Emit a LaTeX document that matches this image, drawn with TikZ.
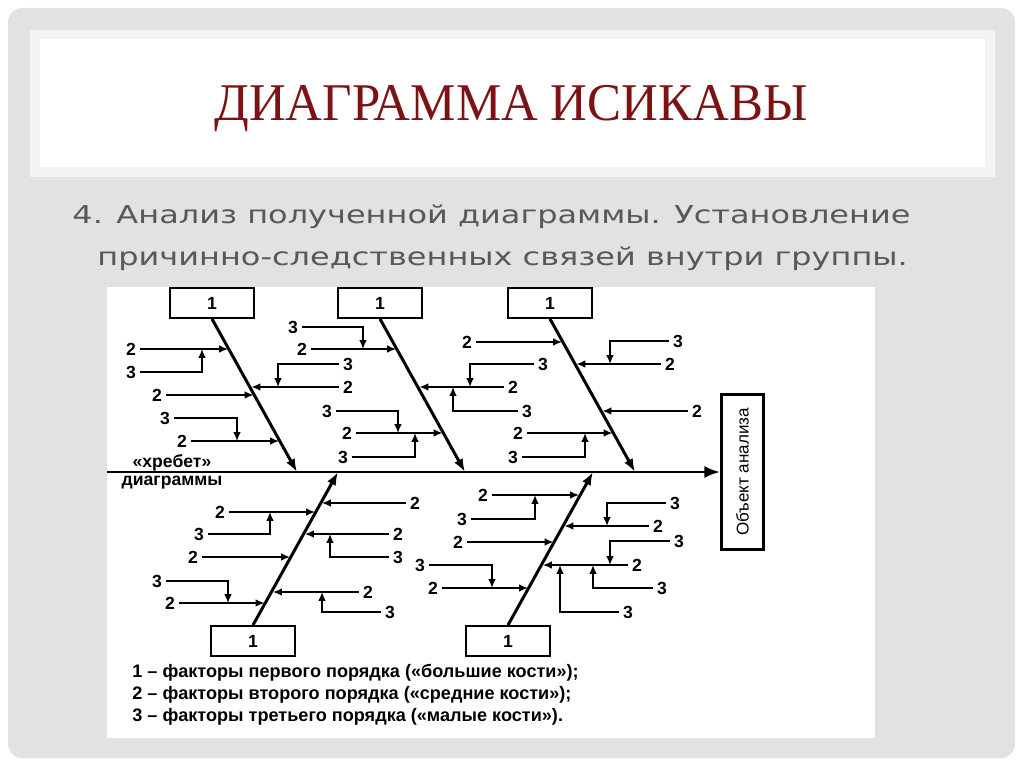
\documentclass[tikz,border=0pt]{standalone}
\usepackage{fontspec}
\setmainfont{Liberation Serif}
\setsansfont{Liberation Sans}
\newfontfamily\subfont{DejaVu Sans}
\usetikzlibrary{arrows.meta}
\definecolor{slidegray}{RGB}{226,226,226}
\definecolor{framegray}{RGB}{243,243,243}
\definecolor{titlered}{RGB}{125,18,20}
\definecolor{subgray}{RGB}{88,88,88}
\tikzset{
  titletext/.style={font=\fontsize{29}{34}\selectfont,text=titlered,inner sep=0pt,yscale=1.04},
  subtext/.style={font=\subfont\fontsize{14}{16}\selectfont,text=subgray,inner sep=0pt,xscale=1.3},
  num/.style={font=\sffamily\bfseries\fontsize{10}{11}\selectfont,inner sep=2.4pt},
  legend/.style={font=\sffamily\bfseries\fontsize{10.3}{11}\selectfont,inner sep=0pt,anchor=west},
  spinetext/.style={font=\sffamily\bfseries\fontsize{10}{11}\selectfont,inner sep=0pt},
  bonebox/.style={draw,line width=1.1pt,minimum width=48pt,minimum height=17pt,font=\sffamily\bfseries\fontsize{10}{11}\selectfont},
  objbox/.style={draw,line width=1.5pt,rotate=90,minimum width=88pt,minimum height=24pt,inner sep=0pt,font=\sffamily\fontsize{9.7}{11}\selectfont},
  bone/.style={line width=1.7pt,-{Latex[length=7.5pt,width=5.5pt]}},
  spine/.style={line width=1.7pt,-{Latex[length=9pt,width=7pt]}},
  twig/.style={line width=0.85pt,-{Latex[length=5pt,width=4.3pt]}}
}
\begin{document}
\begin{tikzpicture}[x=0.02cm,y=-0.02cm]
\useasboundingbox (0,0) rectangle (1024,767);
\fill[white] (0,0) rectangle (1024,767);
\fill[slidegray,rounded corners=8pt] (8,8) rectangle (1015,758);
\fill[framegray] (30,30) rectangle (995,177);
\fill[white] (40,39) rectangle (985,167);
\node (title) at (511,120) [anchor=base,titletext] {ДИАГРАММА ИСИКАВЫ};
\node (sub1) at (72,223) [anchor=base west,subtext] {4. Анализ полученной диаграммы. Установление};
\node (sub2) at (97,265) [anchor=base west,subtext] {причинно-следственных связей внутри группы.};
\fill[white] (107,287) rectangle (875,738);

\coordinate (sp0) at (107,472);
\node (obj) at (742.5,472) [objbox] {Объект анализа};
\draw[spine] (sp0) -- (obj);
\node (spn1) at (172,463) [spinetext] {«хребет»};
\node (spn2) at (172,483) [spinetext] {диаграммы};

\node (k1) at (212,303) [bonebox] {1};
\node (k2) at (380,303) [bonebox] {1};
\node (k3) at (550,303) [bonebox] {1};
\node (k4) at (253,641) [bonebox] {1};
\node (k5) at (508,641) [bonebox] {1};
\coordinate (t1) at (297,472);
\coordinate (t2) at (465,472);
\coordinate (t3) at (635,472);
\coordinate (t4) at (338,472);
\coordinate (t5) at (593,472);
\draw[bone] (k1.south) -- (t1);
\draw[bone] (k2.south) -- (t2);
\draw[bone] (k3.south) -- (t3);
\draw[bone] (k4.north) -- (t4);
\draw[bone] (k5.north) -- (t5);

\node (n1a) at (131,349) [num] {2};
\node (n1b) at (131,372) [num] {3};
\node (n1c) at (157,395) [num] {2};
\node (n1d) at (165,418) [num] {3};
\node (n1e) at (182,441) [num] {2};
\node (n1f) at (348,364) [num] {3};
\node (n1g) at (348,387) [num] {2};
\coordinate (e1a) at (228,349);
\coordinate (e1b) at (202,349);
\coordinate (e1c) at (253.5,395);
\coordinate (e1d) at (237,441);
\coordinate (e1e) at (279,441);
\coordinate (e1f) at (278,387);
\coordinate (e1g) at (251.5,387);
\draw[twig] (n1a) -- (e1a);
\draw[twig] (n1b) -| (e1b);
\draw[twig] (n1c) -- (e1c);
\draw[twig] (n1d) -| (e1d);
\draw[twig] (n1e) -- (e1e);
\draw[twig] (n1f) -| (e1f);
\draw[twig] (n1g) -- (e1g);

\node (n2a) at (293,327) [num] {3};
\node (n2b) at (302,349) [num] {2};
\node (n2c) at (327,411) [num] {3};
\node (n2d) at (347,433) [num] {2};
\node (n2e) at (343,457) [num] {3};
\node (n2f) at (543,364) [num] {3};
\node (n2g) at (513,387) [num] {2};
\node (n2h) at (527,411) [num] {3};
\coordinate (e2a) at (363,349);
\coordinate (e2b) at (396,349);
\coordinate (e2c) at (398,433);
\coordinate (e2d) at (442.5,433);
\coordinate (e2e) at (415,433);
\coordinate (e2f) at (470,387);
\coordinate (e2g) at (419.5,387);
\coordinate (e2h) at (453,387);
\draw[twig] (n2a) -| (e2a);
\draw[twig] (n2b) -- (e2b);
\draw[twig] (n2c) -| (e2c);
\draw[twig] (n2d) -- (e2d);
\draw[twig] (n2e) -| (e2e);
\draw[twig] (n2f) -| (e2f);
\draw[twig] (n2g) -- (e2g);
\draw[twig] (n2h) -| (e2h);

\node (n3a) at (467,342) [num] {2};
\node (n3b) at (518,433) [num] {2};
\node (n3c) at (513,457) [num] {3};
\node (n3d) at (678,341) [num] {3};
\node (n3e) at (670,364) [num] {2};
\node (n3f) at (697,411) [num] {2};
\coordinate (e3a) at (562,342);
\coordinate (e3b) at (612.5,433);
\coordinate (e3c) at (585,433);
\coordinate (e3d) at (610,364);
\coordinate (e3e) at (576.5,364);
\coordinate (e3f) at (602.5,411);
\draw[twig] (n3a) -- (e3a);
\draw[twig] (n3b) -- (e3b);
\draw[twig] (n3c) -| (e3c);
\draw[twig] (n3d) -| (e3d);
\draw[twig] (n3e) -- (e3e);
\draw[twig] (n3f) -- (e3f);

\node (n4a) at (220,512) [num] {2};
\node (n4b) at (199,534) [num] {3};
\node (n4c) at (193,557) [num] {2};
\node (n4d) at (157,581) [num] {3};
\node (n4e) at (170,603) [num] {2};
\node (n4f) at (415,503) [num] {2};
\node (n4g) at (398,534) [num] {2};
\node (n4h) at (398,557) [num] {3};
\node (n4i) at (368,592) [num] {2};
\node (n4j) at (390,612) [num] {3};
\coordinate (e4a) at (315,512);
\coordinate (e4b) at (270,512);
\coordinate (e4c) at (290,557);
\coordinate (e4d) at (228,603);
\coordinate (e4e) at (264.5,603);
\coordinate (e4f) at (322,503);
\coordinate (e4g) at (305,534);
\coordinate (e4h) at (330,534);
\coordinate (e4i) at (273,592);
\coordinate (e4j) at (322,592);
\draw[twig] (n4a) -- (e4a);
\draw[twig] (n4b) -| (e4b);
\draw[twig] (n4c) -- (e4c);
\draw[twig] (n4d) -| (e4d);
\draw[twig] (n4e) -- (e4e);
\draw[twig] (n4f) -- (e4f);
\draw[twig] (n4g) -- (e4g);
\draw[twig] (n4h) -| (e4h);
\draw[twig] (n4i) -- (e4i);
\draw[twig] (n4j) -| (e4j);

\node (n5a) at (483,495) [num] {2};
\node (n5b) at (462,519) [num] {3};
\node (n5c) at (458,542) [num] {2};
\node (n5d) at (420,565) [num] {3};
\node (n5e) at (433,588) [num] {2};
\node (n5f) at (675,503) [num] {3};
\node (n5g) at (658,526) [num] {2};
\node (n5h) at (679,541) [num] {3};
\node (n5i) at (637,565) [num] {2};
\node (n5j) at (662,588) [num] {3};
\node (n5k) at (628,612) [num] {3};
\coordinate (e5a) at (579,495);
\coordinate (e5b) at (535,495);
\coordinate (e5c) at (553.5,542);
\coordinate (e5d) at (492,588);
\coordinate (e5e) at (528,588);
\coordinate (e5f) at (607,526);
\coordinate (e5g) at (564.5,526);
\coordinate (e5h) at (610,565);
\coordinate (e5i) at (543,565);
\coordinate (e5j) at (593,565);
\coordinate (e5k) at (560,565);
\draw[twig] (n5a) -- (e5a);
\draw[twig] (n5b) -| (e5b);
\draw[twig] (n5c) -- (e5c);
\draw[twig] (n5d) -| (e5d);
\draw[twig] (n5e) -- (e5e);
\draw[twig] (n5f) -| (e5f);
\draw[twig] (n5g) -- (e5g);
\draw[twig] (n5h) -| (e5h);
\draw[twig] (n5i) -- (e5i);
\draw[twig] (n5j) -| (e5j);
\draw[twig] (n5k) -| (e5k);

\node (lg1) at (132,673) [legend] {1 – факторы первого порядка («большие кости»);};
\node (lg2) at (132,695) [legend] {2 – факторы второго порядка («средние кости»);};
\node (lg3) at (132,717) [legend] {3 – факторы третьего порядка («малые кости»).};
\end{tikzpicture}
\end{document}
